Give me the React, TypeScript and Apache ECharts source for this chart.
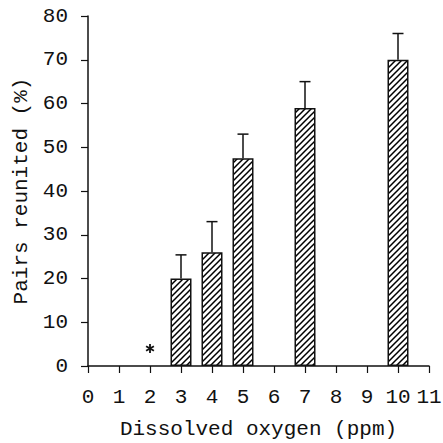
import React, { useEffect, useRef } from "react";
import * as echarts from "echarts";

const oxygen = [3, 4, 5, 7, 10];
const reunited = [20, 26, 47.5, 59, 70];
const errorUpper = [25.4, 33, 53, 65, 76];
const asteriskPoint = [2, 4];
const xTicks = [0, 11, 1];
const yTicks = [0, 80, 10];

function makeHatch(): HTMLCanvasElement {
  const c = document.createElement("canvas");
  const s = 6;
  c.width = s;
  c.height = s;
  const ctx = c.getContext("2d")!;
  ctx.fillStyle = "#fff";
  ctx.fillRect(0, 0, s, s);
  ctx.strokeStyle = "#000";
  ctx.lineWidth = 1.5;
  ctx.beginPath();
  ctx.moveTo(-1, s + 1);
  ctx.lineTo(s + 1, -1);
  ctx.moveTo(-1, 1);
  ctx.lineTo(1, -1);
  ctx.moveTo(s - 1, s + 1);
  ctx.lineTo(s + 1, s - 1);
  ctx.stroke();
  return c;
}

const FONT = "'Liberation Mono', 'DejaVu Sans Mono', monospace";

export default function App() {
  const ref = useRef<HTMLDivElement>(null);
  useEffect(() => {
    document.body.style.margin = "0";
    document.body.style.overflow = "hidden";
    if (!ref.current) return;
    const chart = echarts.init(ref.current, null, { renderer: "svg" });
    const hatch = makeHatch();
    const barData = oxygen.map((x, i) => [x, reunited[i]]);
    const errData = oxygen.map((x, i) => [x, reunited[i], errorUpper[i]]);
    chart.setOption({
      animation: false,
      backgroundColor: "#fff",
      grid: {
        left: 88,
        right: 14,
        top: 16,
        bottom: 77,
        containLabel: false,
        outerBoundsMode: "none",
      },
      xAxis: {
        type: "value",
        min: xTicks[0],
        max: xTicks[1],
        interval: xTicks[2],
        name: "Dissolved oxygen (ppm)",
        nameLocation: "middle",
        nameGap: 53,
        nameTextStyle: { fontFamily: FONT, fontSize: 21, color: "#111" },
        splitLine: { show: false },
        axisLine: { lineStyle: { color: "#111", width: 1.5 } },
        axisTick: { show: true, length: 7, lineStyle: { color: "#111", width: 1.2 } },
        axisLabel: { fontFamily: FONT, fontSize: 21, color: "#111", margin: 21 },
      },
      yAxis: {
        type: "value",
        min: yTicks[0],
        max: yTicks[1],
        interval: yTicks[2],
        name: "Pairs reunited (%)",
        nameLocation: "middle",
        nameGap: 56,
        nameTextStyle: { fontFamily: FONT, fontSize: 21, color: "#111" },
        splitLine: { show: false },
        axisLine: { show: true, lineStyle: { color: "#111", width: 1.5 } },
        axisTick: { show: true, length: 7, lineStyle: { color: "#111", width: 1.2 } },
        axisLabel: { fontFamily: FONT, fontSize: 21, color: "#111", margin: 20 },
      },
      series: [
        {
          type: "bar",
          data: barData,
          barWidth: 21,
          itemStyle: {
            color: { image: hatch, repeat: "repeat" },
            borderColor: "#111",
            borderWidth: 1.5,
          },
          z: 2,
        },
        {
          type: "custom",
          data: errData,
          z: 3,
          renderItem: (params: any, api: any) => {
            const x = api.value(0);
            const lo = api.coord([x, api.value(1)]);
            const hi = api.coord([x, api.value(2)]);
            const hw = 5.5;
            return {
              type: "group",
              children: [
                {
                  type: "line",
                  shape: { x1: lo[0], y1: lo[1], x2: hi[0], y2: hi[1] },
                  style: { stroke: "#111", lineWidth: 1.5 },
                },
                {
                  type: "line",
                  shape: { x1: hi[0] - hw, y1: hi[1], x2: hi[0] + hw, y2: hi[1] },
                  style: { stroke: "#111", lineWidth: 1.5 },
                },
              ],
            };
          },
        },
        {
          type: "custom",
          data: [asteriskPoint],
          z: 3,
          renderItem: (params: any, api: any) => {
            const p = api.coord([api.value(0), api.value(1)]);
            const r = 4.5;
            const lines = [0, 60, 120].map((deg) => {
              const a = ((deg + 90) * Math.PI) / 180;
              const dx = Math.cos(a) * r;
              const dy = Math.sin(a) * r;
              return {
                type: "line",
                shape: { x1: p[0] - dx, y1: p[1] - dy, x2: p[0] + dx, y2: p[1] + dy },
                style: { stroke: "#111", lineWidth: 1.8 },
              };
            });
            return { type: "group", children: lines };
          },
        },
      ],
    });
    return () => chart.dispose();
  }, []);
  return <div ref={ref} style={{ width: 443, height: 443 }} />;
}
